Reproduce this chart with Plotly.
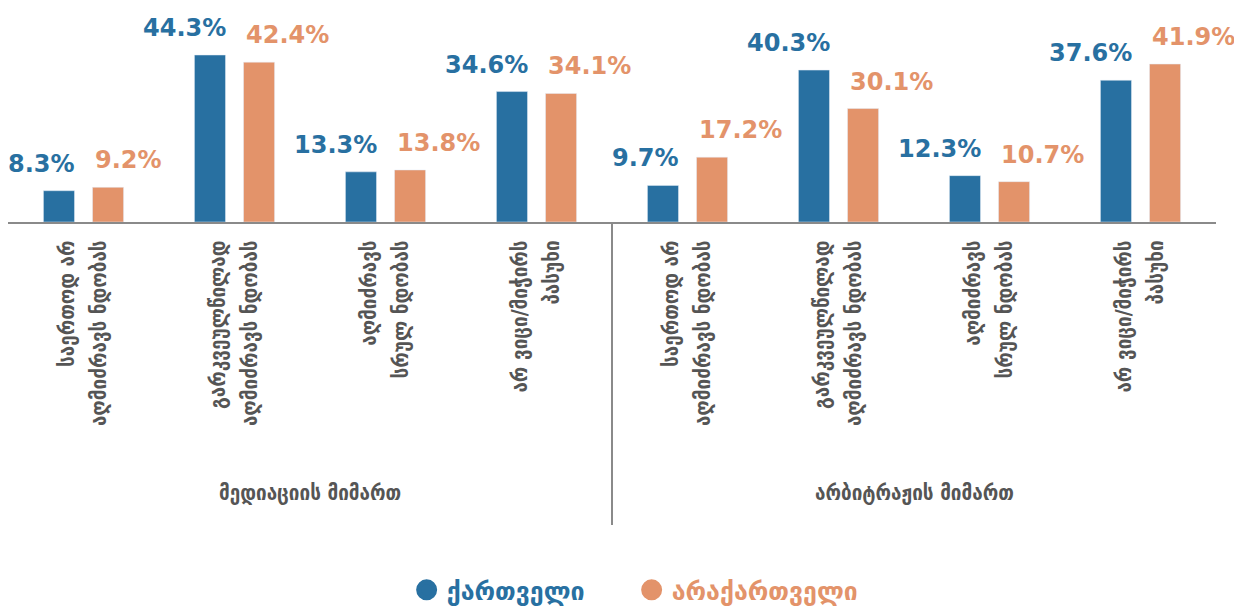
import plotly.graph_objects as go

# ---- data ----
categories_line1 = ["საერთოდ არ", "გარკვეულწილად", "აღმიძრავს", "არ ვიცი/მიჭირს",
                    "საერთოდ არ", "გარკვეულწილად", "აღმიძრავს", "არ ვიცი/მიჭირს"]
categories_line2 = ["აღმიძრავს ნდობას", "აღმიძრავს ნდობას", "სრულ ნდობას", "პასუხი",
                    "აღმიძრავს ნდობას", "აღმიძრავს ნდობას", "სრულ ნდობას", "პასუხი"]
groups = ["მედიაციის მიმართ", "არბიტრაჟის მიმართ"]
series_names = ["ქართველი", "არაქართველი"]
georgian = [8.3, 44.3, 13.3, 34.6, 9.7, 40.3, 12.3, 37.6]
non_georgian = [9.2, 42.4, 13.8, 34.1, 17.2, 30.1, 10.7, 41.9]

BLUE = "#2870a1"
ORANGE = "#e3936a"
GRAY_TXT = "#555555"
AXIS = "#8a8a8a"
xs = list(range(len(georgian)))

fig = go.Figure()
fig.add_trace(go.Bar(x=xs, y=georgian, marker_color=BLUE, showlegend=False, name=series_names[0]))
fig.add_trace(go.Bar(x=xs, y=non_georgian, marker_color=ORANGE, showlegend=False, name=series_names[1]))

# legend entries (circles)
for nm, col in zip(series_names, [BLUE, ORANGE]):
    fig.add_trace(go.Scatter(x=[None], y=[None], mode="markers",
                             marker=dict(color=col, size=16, symbol="circle",
                                         line=dict(color=col, width=5)),
                             name=f"<span style='color:{col}'>{nm}</span>", showlegend=True))

annotations = []
for i, (a, b) in enumerate(zip(georgian, non_georgian)):
    annotations.append(dict(x=i, y=a, xref="x", yref="y", text=f"{a}%", showarrow=False,
                            xanchor="right", yanchor="bottom", xshift=-7, yshift=11,
                            font=dict(family="DejaVu Sans", size=24, color=BLUE, weight="bold")))
    annotations.append(dict(x=i, y=b, xref="x", yref="y", text=f"{b}%", showarrow=False,
                            xanchor="left", yanchor="bottom", xshift=9, yshift=11,
                            font=dict(family="DejaVu Sans", size=24, color=ORANGE, weight="bold")))

n_per_group = len(xs) // len(groups)
for g, gname in enumerate(groups):
    center = g * n_per_group + (n_per_group - 1) / 2
    annotations.append(dict(x=center, y=-1.266, xref="x", yref="paper", text=gname, showarrow=False,
                            xanchor="center", yanchor="middle",
                            font=dict(family="DejaVu Sans Condensed", size=21, color=GRAY_TXT, weight="bold")))

fig.add_shape(type="line", x0=n_per_group - 0.5, x1=n_per_group - 0.5, xref="x",
              y0=0, y1=-1.416, yref="paper", line=dict(color=AXIS, width=2))

tickvals = [i - 0.105 for i in xs] + [i + 0.105 for i in xs]
ticktext = categories_line1 + categories_line2

fig.update_layout(
    width=1242, height=607,
    margin=dict(l=0, r=34, t=0, b=393),
    paper_bgcolor="white", plot_bgcolor="white",
    barmode="group", bargap=0.35, bargroupgap=0.367,
    annotations=annotations,
    legend=dict(orientation="h", x=0.33, xanchor="left", y=-1.72, yanchor="middle",
                font=dict(family="DejaVu Sans", size=25, weight="bold"),
                itemwidth=30, entrywidth=180, entrywidthmode="pixels", tracegroupgap=0),
    xaxis=dict(range=[-0.5, 7.5], tickmode="array", tickvals=tickvals, ticktext=ticktext,
               tickangle=-90, showline=True, linecolor=AXIS, linewidth=2, ticks="",
               showgrid=False, zeroline=False, ticklabelstandoff=8,
               tickfont=dict(family="DejaVu Sans Condensed", size=21, color=GRAY_TXT, weight="bold")),
    yaxis=dict(range=[0, 56.77], visible=False, showgrid=False, zeroline=False),
)

fig.write_html("out.html")
